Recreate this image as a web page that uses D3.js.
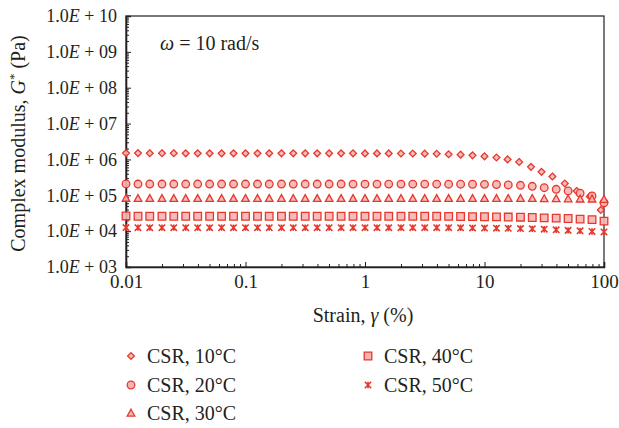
<!DOCTYPE html>
<html>
<head>
<meta charset="utf-8">
<script src="https://cdn.jsdelivr.net/npm/d3@7/dist/d3.min.js"></script>
<style>
  body { margin: 0; background: #fff; }
  text { font-family: "Liberation Serif", "DejaVu Serif", serif; fill: #231f20; }
</style>
</head>
<body>
<div id="chart"></div>
<script>
var svgWidth = 619;
var svgHeight = 428;

var margin = { top: 16, right: 15, bottom: 161, left: 126 };
var width = svgWidth - margin.left - margin.right;
var height = svgHeight - margin.top - margin.bottom;

// strain (%) grid: 10 points per decade, 0.01 .. 100
var strain = [0.01, 0.0126, 0.0158, 0.02, 0.0251, 0.0316, 0.0398, 0.0501, 0.0631, 0.0794,
  0.1, 0.126, 0.158, 0.2, 0.251, 0.316, 0.398, 0.501, 0.631, 0.794,
  1, 1.26, 1.58, 2, 2.51, 3.16, 3.98, 5.01, 6.31, 7.94,
  10, 12.6, 15.8, 20, 25.1, 31.6, 39.8, 50.1, 63.1, 79.4, 100];

// the 10°C run drifts a little at high strain
var strain10 = [0.01, 0.0126, 0.0158, 0.02, 0.0251, 0.0316, 0.0398, 0.0501, 0.0631, 0.0794,
  0.1, 0.126, 0.158, 0.2, 0.251, 0.316, 0.398, 0.501, 0.631, 0.794,
  1, 1.26, 1.58, 2, 2.51, 3.16, 3.98, 5.01, 6.31, 7.94,
  10, 12.6, 15.6, 19.5, 24.5, 30, 37, 47, 59, 76, 94];

var g10 = [1.5e6, 1.5e6, 1.49e6, 1.49e6, 1.49e6, 1.48e6, 1.48e6, 1.48e6, 1.48e6, 1.48e6,
  1.48e6, 1.48e6, 1.48e6, 1.48e6, 1.48e6, 1.48e6, 1.48e6, 1.48e6, 1.48e6, 1.48e6,
  1.47e6, 1.47e6, 1.47e6, 1.46e6, 1.46e6, 1.45e6, 1.44e6, 1.39e6, 1.36e6, 1.3e6,
  1.22e6, 1.13e6, 1.0e6, 8.5e5, 6.2e5, 4.5e5, 3.35e5, 2.13e5, 1.32e5, 9.3e4, 3.9e4];

var g20 = [2.07e5, 2.06e5, 2.06e5, 2.06e5, 2.06e5, 2.06e5, 2.06e5, 2.06e5, 2.06e5, 2.06e5,
  2.06e5, 2.06e5, 2.06e5, 2.06e5, 2.06e5, 2.06e5, 2.06e5, 2.06e5, 2.06e5, 2.05e5,
  2.05e5, 2.05e5, 2.05e5, 2.05e5, 2.05e5, 2.05e5, 2.05e5, 2.04e5, 2.04e5, 2.03e5,
  2.02e5, 2.0e5, 1.94e5, 1.9e5, 1.78e5, 1.63e5, 1.47e5, 1.32e5, 1.14e5, 9.6e4, 6.2e4];

var g30 = [8.3e4, 8.2e4, 8.2e4, 8.2e4, 8.2e4, 8.2e4, 8.2e4, 8.2e4, 8.2e4, 8.2e4,
  8.2e4, 8.2e4, 8.2e4, 8.2e4, 8.2e4, 8.2e4, 8.2e4, 8.2e4, 8.2e4, 8.2e4,
  8.2e4, 8.2e4, 8.2e4, 8.2e4, 8.2e4, 8.2e4, 8.2e4, 8.2e4, 8.2e4, 8.2e4,
  8.2e4, 8.2e4, 8.2e4, 8.2e4, 8.2e4, 8.1e4, 8.1e4, 8.0e4, 7.9e4, 7.9e4, 7.7e4];

var g40 = [2.65e4, 2.6e4, 2.6e4, 2.6e4, 2.6e4, 2.6e4, 2.6e4, 2.6e4, 2.6e4, 2.6e4,
  2.6e4, 2.6e4, 2.6e4, 2.6e4, 2.6e4, 2.6e4, 2.6e4, 2.6e4, 2.6e4, 2.6e4,
  2.6e4, 2.6e4, 2.6e4, 2.6e4, 2.6e4, 2.6e4, 2.6e4, 2.58e4, 2.56e4, 2.54e4,
  2.52e4, 2.5e4, 2.47e4, 2.45e4, 2.4e4, 2.35e4, 2.3e4, 2.25e4, 2.17e4, 2.1e4, 1.9e4];

var g50 = [1.26e4, 1.25e4, 1.25e4, 1.25e4, 1.25e4, 1.25e4, 1.25e4, 1.25e4, 1.25e4, 1.25e4,
  1.25e4, 1.25e4, 1.25e4, 1.25e4, 1.25e4, 1.25e4, 1.25e4, 1.25e4, 1.25e4, 1.25e4,
  1.25e4, 1.25e4, 1.25e4, 1.25e4, 1.25e4, 1.25e4, 1.25e4, 1.25e4, 1.24e4, 1.23e4,
  1.22e4, 1.21e4, 1.2e4, 1.18e4, 1.16e4, 1.13e4, 1.09e4, 1.05e4, 1.02e4, 9.8e3, 9.5e3];

var seriesNames = ["CSR, 10°C", "CSR, 20°C", "CSR, 30°C", "CSR, 40°C", "CSR, 50°C"];
var xTicks = [0.01, 0.1, 1, 10, 100];
var yTicks = [1e3, 1e4, 1e5, 1e6, 1e7, 1e8, 1e9, 1e10];

var stroke = "#e5392e";
var fill = "#f6b4b1";

// marker shapes, size = half-width in px
var diamond = { draw: function(c, s) { c.moveTo(0, -s); c.lineTo(s, 0); c.lineTo(0, s); c.lineTo(-s, 0); c.closePath(); } };
var circle = { draw: function(c, s) { c.moveTo(s, 0); c.arc(0, 0, s, 0, 2 * Math.PI); } };
var triangle = { draw: function(c, s) { c.moveTo(0, -s); c.lineTo(s, s * 0.8); c.lineTo(-s, s * 0.8); c.closePath(); } };
var square = { draw: function(c, s) { c.rect(-s, -s, 2 * s, 2 * s); } };
var star = { draw: function(c, s) {
  c.moveTo(-s, -s); c.lineTo(s, s); c.moveTo(s, -s); c.lineTo(-s, s);
  c.moveTo(0, -s); c.lineTo(0, s);
} };

var series = [
  { name: seriesNames[0], x: strain10, y: g10, type: diamond, size: 3.4 },
  { name: seriesNames[1], x: strain, y: g20, type: circle, size: 3.8 },
  { name: seriesNames[2], x: strain, y: g30, type: triangle, size: 3.8 },
  { name: seriesNames[3], x: strain, y: g40, type: square, size: 3.8 },
  { name: seriesNames[4], x: strain, y: g50, type: star, size: 3.2 }
];

var svg = d3.select("#chart")
  .append("svg")
  .attr("width", svgWidth)
  .attr("height", svgHeight);

svg.append("rect")
  .attr("width", "100%")
  .attr("height", "100%")
  .attr("fill", "#fff");

var chartGroup = svg.append("g")
  .attr("transform", `translate(${margin.left}, ${margin.top})`);

var xScale = d3.scaleLog().domain([0.01, 100]).range([0, width]);
var yScale = d3.scaleLog().domain([1e3, 1e10]).range([height, 0]);

var minorX = [];
xTicks.slice(0, -1).forEach(function(d) { for (var k = 2; k <= 9; k++) minorX.push(d * k); });
var minorY = [];
yTicks.slice(0, -1).forEach(function(d) { for (var k = 2; k <= 9; k++) minorY.push(d * k); });

// frame
chartGroup.append("rect")
  .attr("width", width)
  .attr("height", height)
  .attr("fill", "none")
  .attr("stroke", "#231f20")
  .attr("stroke-width", 1.2);

// minor ticks
chartGroup.append("g")
  .attr("transform", `translate(0, ${height})`)
  .call(d3.axisBottom(xScale).tickValues(minorX).tickSize(-3).tickFormat(""))
  .call(g => g.select(".domain").remove());
chartGroup.append("g")
  .call(d3.axisLeft(yScale).tickValues(minorY).tickSize(-3).tickFormat(""))
  .call(g => g.select(".domain").remove());

// major ticks + labels
var xAxis = chartGroup.append("g")
  .attr("transform", `translate(0, ${height})`)
  .call(d3.axisBottom(xScale).tickValues(xTicks).tickSize(-5).tickPadding(8)
    .tickFormat(function(d) { return d >= 1 ? d3.format("d")(d) : d3.format(".2~f")(d); }));
xAxis.select(".domain").attr("stroke-width", 1.6);
xAxis.selectAll("text").style("font-size", "19px").attr("fill", "#231f20");

var yAxis = chartGroup.append("g")
  .call(d3.axisLeft(yScale).tickValues(yTicks).tickSize(-5).tickPadding(9).tickFormat(""));
yAxis.select(".domain").attr("stroke-width", 1.6);
yAxis.selectAll(".tick text")
  .style("font-size", "18px")
  .attr("fill", "#231f20")
  .each(function(d) {
    var t = d3.select(this);
    var e = Math.round(Math.log10(d));
    t.append("tspan").text("1.0");
    t.append("tspan").style("font-style", "italic").text("E");
    t.append("tspan").text(" + " + (e < 10 ? "0" + e : e));
  });
chartGroup.selectAll(".tick line").attr("stroke", "#231f20");
chartGroup.selectAll(".domain").attr("stroke", "#231f20");

// data points
series.forEach(function(s) {
  var sym = d3.symbol().type(s.type).size(s.size);
  chartGroup.append("g")
    .selectAll("path")
    .data(s.y.map(function(v, i) { return { x: s.x[i], y: v }; }))
    .enter()
    .append("path")
    .attr("transform", d => `translate(${xScale(d.x)}, ${yScale(d.y)})`)
    .attr("d", sym)
    .attr("fill", s.type === star ? "none" : fill)
    .attr("fill-opacity", 0.9)
    .attr("stroke", stroke)
    .attr("stroke-width", s.type === star ? 1.6 : 1.3);
});

// annotation
var ann = chartGroup.append("text")
  .attr("x", 34)
  .attr("y", 34)
  .style("font-size", "20px");
ann.append("tspan").style("font-style", "italic").text("ω");
ann.append("tspan").text(" = 10 rad/s");

// axis titles
chartGroup.append("text")
  .attr("x", width / 2 - 2)
  .attr("y", height + 55)
  .style("text-anchor", "middle")
  .style("font-size", "20px")
  .call(function(t) {
    t.append("tspan").text("Strain, ");
    t.append("tspan").style("font-style", "italic").text("γ");
    t.append("tspan").text(" (%)");
  });

var yTitle = svg.append("text")
  .attr("transform", `translate(25, ${margin.top + height / 2 + 2}) rotate(-90)`)
  .style("text-anchor", "middle")
  .style("font-size", "20px");
yTitle.append("tspan").text("Complex modulus, ");
yTitle.append("tspan").style("font-style", "italic").text("G");
yTitle.append("tspan").attr("dy", -7).style("font-size", "13px").text("*");
yTitle.append("tspan").attr("dy", 7).text(" (Pa)");

// legend
var legendPos = [[131, 356], [131, 385], [131, 413], [368, 356], [368, 385]];
series.forEach(function(s, i) {
  var lg = svg.append("g").attr("transform", `translate(${legendPos[i][0]}, ${legendPos[i][1]})`);
  lg.append("path")
    .attr("d", d3.symbol().type(s.type).size(s.size)())
    .attr("fill", s.type === star ? "none" : fill)
    .attr("stroke", stroke)
    .attr("stroke-width", s.type === star ? 1.6 : 1.3);
  lg.append("text")
    .attr("x", 16)
    .attr("y", 7)
    .style("font-size", "20px")
    .text(s.name);
});
</script>
</body>
</html>
